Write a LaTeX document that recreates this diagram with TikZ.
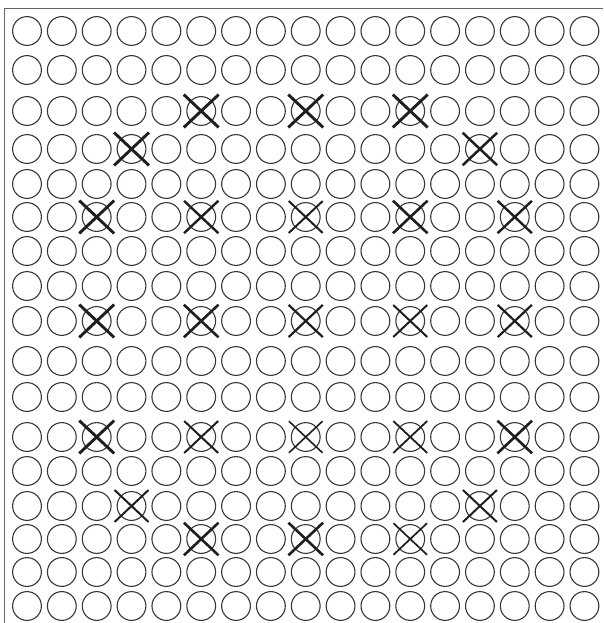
\documentclass[tikz,border=0pt]{standalone}
\usepackage{tikz}
\usetikzlibrary{shapes.misc}
\definecolor{ink}{HTML}{1E1E1E}
\definecolor{rim}{HTML}{363636}
\definecolor{edge}{HTML}{666666}

\begin{document}
\begin{tikzpicture}[
  x=1pt,y=-1pt,
  hole/.style={circle,draw=rim,line width=1.1pt,minimum size=28.8pt,inner sep=0pt},
  xmark/.style={cross out,draw=ink,minimum width=32pt,minimum height=30pt,inner sep=0pt},
  frame/.style={draw=edge,line width=1.1pt}
]
\useasboundingbox (0,0) rectangle (603,623);
\draw[frame] (4.5,623) -- (4.5,8.5) -- (603,8.5);

% grid of holes, 17 x 17
\foreach \yy [count=\r] in {31,70,111,149,184,217,251,286,321,361,397,437,471,506,539,572,606}
  \foreach \c in {1,...,17}
    \node[hole] (c-\r-\c) at ({27+34.84*(\c-1)},\yy) {};

% crossed-out holes: row/column/stroke
\foreach \r/\c/\w in {3/6/2.9,3/9/2.9,3/12/2.9,4/4/2.9,4/14/2.5,
    6/3/2.9,6/6/2.4,6/9/2.0,6/12/2.6,6/15/2.4,
    9/3/2.9,9/6/2.6,9/9/2.2,9/12/2.0,9/15/2.2,
    12/3/2.9,12/6/2.0,12/9/1.6,12/12/1.8,12/15/2.6,
    14/4/2.0,14/14/2.0,15/6/2.6,15/9/2.6,15/12/1.7}
  \node[xmark,line width=\w pt] (x-\r-\c) at (c-\r-\c) {};
\end{tikzpicture}
\end{document}
